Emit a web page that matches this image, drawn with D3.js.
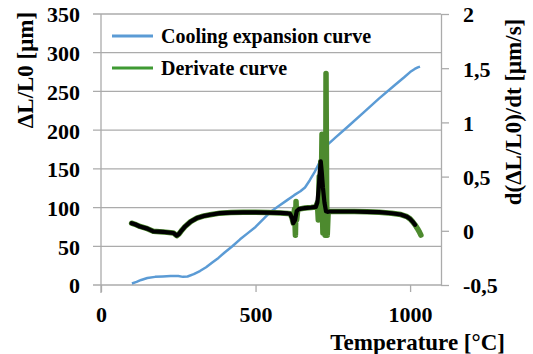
<!DOCTYPE html>
<html><head><meta charset="utf-8">
<script src="https://cdn.jsdelivr.net/npm/d3@7"></script>
<style>
html,body{margin:0;padding:0;background:#fff;}
svg text{font-family:"Liberation Serif","Times New Roman",serif !important;font-weight:bold;fill:#000;}
</style></head>
<body><svg id="c" width="533" height="354"></svg>
<script>
// ---- data ----
const xTicks = [0, 500, 1000];
const leftTicks = [0, 50, 100, 150, 200, 250, 300, 350];
const rightTicks = [-0.5, 0, 0.5, 1, 1.5, 2];
const rightTickLabels = ["-0,5", "0", "0,5", "1", "1,5", "2"];

const expT = [100,115,130,150,175,200,225,250,265,280,300,320,340,360,380,400,425,450,475,500,525,550,575,600,625,645,660,675,690,705,720,735,760,800,850,900,950,980,1000,1015,1025,1032];
const expV = [2,4,6.5,9,10.5,11,11.5,11.5,10.5,11,14,18,23,29,35,42,50,59,67,75,85,95,102,109,116,121,126,135,145,157,169,182,191,205,223,241,258,268,275,279,281,282];

const smoothT = [99,110,126,150,169,200,234,245,252,260,272,290,310,330,353,385,420,460,500,540,580,605,612,618,622,628,633,640,660,680,695,700,704,708,711,714,718,723,728,733,740,780,820,860,900,940,970,990,1000,1008,1016];
const smoothV = [0.07,0.06,0.04,0.02,-0.005,-0.01,-0.02,-0.045,-0.03,0.0,0.04,0.085,0.117,0.135,0.148,0.163,0.168,0.17,0.17,0.168,0.165,0.16,0.157,0.12,0.07,0.1,0.18,0.2,0.21,0.215,0.22,0.26,0.38,0.54,0.64,0.55,0.4,0.26,0.18,0.175,0.178,0.178,0.178,0.175,0.172,0.162,0.15,0.13,0.11,0.085,0.055];

const derivT = [99,110,126,150,169,200,234,245,252,260,272,290,310,330,353,385,420,460,500,540,580,605,612,618,622,626,629,631,633,636,640,660,680,695,700,703,706,709,711,713,715,716,718,720,722,725,727,728,730,732,735,740,780,820,860,900,940,970,990,1000,1008,1016,1024,1030,1035];
const derivV = [0.07,0.06,0.04,0.02,-0.005,-0.01,-0.02,-0.045,-0.03,0.0,0.04,0.085,0.117,0.135,0.148,0.163,0.168,0.17,0.17,0.168,0.165,0.16,0.157,0.12,0.07,0.2,-0.04,0.27,0.1,0.18,0.2,0.21,0.215,0.22,0.26,0.1,0.5,0.3,0.64,0.45,0.89,0.2,-0.02,0.4,0.3,-0.04,0.2,1.45,0.3,-0.04,0.18,0.178,0.178,0.178,0.175,0.172,0.162,0.15,0.13,0.11,0.085,0.055,0.02,-0.01,-0.04];

// ---- layout ----
const svg = d3.select("#c");
const FONT = '"Liberation Serif","Times New Roman",serif';
const x = d3.scaleLinear().domain([0, 1100]).range([101, 441]);
const yL = d3.scaleLinear().domain([0, 350]).range([285, 14]);
const yR = d3.scaleLinear().domain([-0.5, 2]).range([285, 14]);
const gridCol = "#ababab";

// gridlines
svg.append("g").selectAll("line").data(leftTicks).join("line")
  .attr("x1", 93).attr("x2", x(1100))
  .attr("y1", d => yL(d)).attr("y2", d => yL(d))
  .attr("stroke", gridCol).attr("stroke-width", 1.3);

function styleTicks(g) {
  g.attr("font-family", FONT).attr("font-weight", "bold");
  g.selectAll("text").style("font-family", FONT).style("font-weight", "bold")
    .style("font-size", "22px").attr("fill", "#000");
}

// left axis
const gL = svg.append("g").attr("transform", "translate(101,0)")
  .call(d3.axisLeft(yL).tickValues(leftTicks).tickSize(0).tickPadding(21).tickFormat(d3.format("d")));
gL.select(".domain").remove();
styleTicks(gL);
gL.selectAll("text").attr("dy", "0.36em");
svg.append("line").attr("x1", 101).attr("x2", 101).attr("y1", 14).attr("y2", 293)
  .attr("stroke", gridCol).attr("stroke-width", 1.3);

// bottom axis
const gB = svg.append("g").attr("transform", "translate(0,285)")
  .call(d3.axisBottom(x).tickValues(xTicks).tickSize(7).tickPadding(14).tickSizeOuter(0).tickFormat(d3.format("d")));
gB.select(".domain").remove();
gB.selectAll("line").attr("stroke", gridCol).attr("stroke-width", 1.3);
styleTicks(gB);

// right axis
const gR = svg.append("g").attr("transform", `translate(${x(1100)},0)`)
  .call(d3.axisRight(yR).tickValues(rightTicks).tickSize(8).tickPadding(14)
    .tickFormat((d, i) => rightTickLabels[i]).tickSizeOuter(0));
gR.select(".domain").attr("stroke", gridCol).attr("stroke-width", 1.3);
gR.selectAll("line").attr("stroke", gridCol).attr("stroke-width", 1.3);
styleTicks(gR);
gR.selectAll("text").attr("dy", "0.36em");

// lines
const lineL = d3.line().x((d, i) => x(expT[i])).y(d => yL(d));
svg.append("path").datum(expV).attr("d", lineL).attr("fill", "none")
  .attr("stroke", "#5b9bd5").attr("stroke-width", 2.5).attr("stroke-linejoin", "round");

const lineD = d3.line().x((d, i) => x(derivT[i])).y(d => yR(d));
svg.append("path").datum(derivV).attr("d", lineD).attr("fill", "none")
  .attr("stroke", "#4d8a2e").attr("stroke-width", 5.5).attr("stroke-linejoin", "round").attr("stroke-linecap", "round");

const lineS = d3.line().x((d, i) => x(smoothT[i])).y(d => yR(d));
svg.append("path").datum(smoothV).attr("d", lineS).attr("fill", "none")
  .attr("stroke", "#000").attr("stroke-width", 4.2).attr("stroke-linejoin", "round").attr("stroke-linecap", "round");

// legend
const legend = [["Cooling expansion curve", "#5b9bd5", 36], ["Derivate curve", "#3f9a33", 68]];
legend.forEach(([t, c, yy]) => {
  svg.append("line").attr("x1", 112).attr("x2", 153).attr("y1", yy).attr("y2", yy)
    .attr("stroke", c).attr("stroke-width", 3);
  svg.append("text").attr("x", 161).attr("y", yy + 7).style("font-size", "20px").text(t);
});

// axis titles
svg.append("text").attr("transform", "translate(33,70) rotate(-90)")
  .attr("text-anchor", "middle").style("font-size", "23px").text("ΔL/L0 [μm]");
svg.append("text").attr("transform", "translate(521,112) rotate(-90)")
  .attr("text-anchor", "middle").style("font-size", "23px").text("d(ΔL/L0)/dt [μm/s]");
svg.append("text").attr("x", 505).attr("y", 350).attr("text-anchor", "end")
  .style("font-size", "23px").text("Temperature [°C]");
</script></body></html>
